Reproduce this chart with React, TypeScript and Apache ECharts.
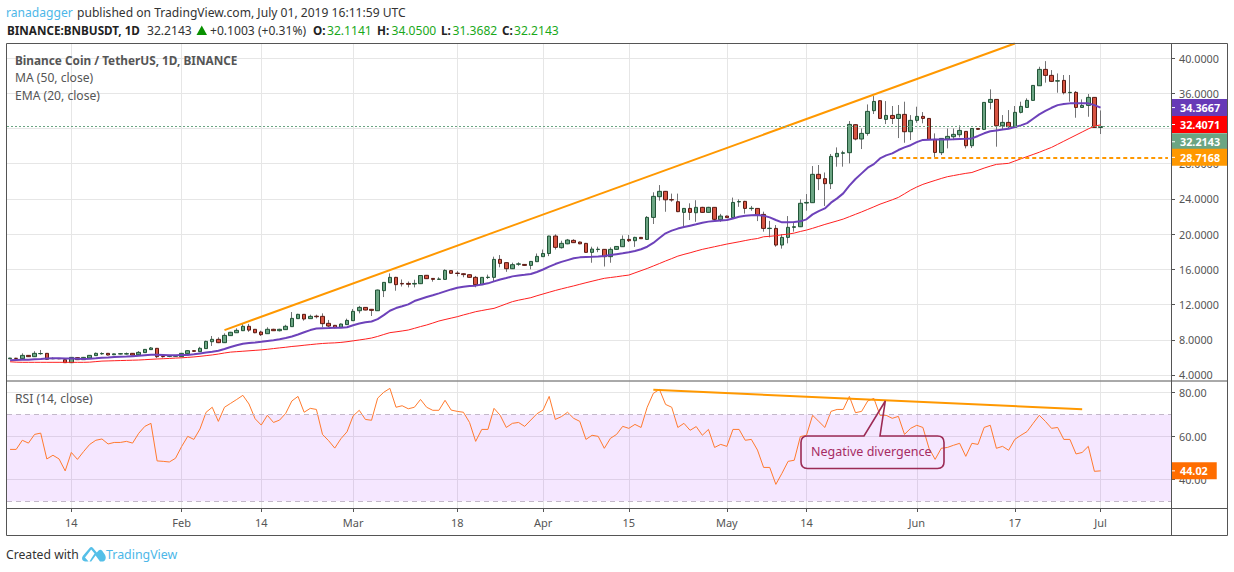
import { useEffect, useRef } from 'react'
import * as echarts from 'echarts'

const FONT = '"Noto Sans", sans-serif'

// one category per day, Jan 4 to Jul 12 2019 (the last ones are empty space to the right)
const categories: string[] = Array.from({ length: 190 }, (_, i) =>
  new Date(Date.UTC(2019, 0, 4 + i)).toISOString().slice(0, 10)
)

const dateTicks: Record<string, string> = {
  '2019-01-14': '14',
  '2019-02-01': 'Feb',
  '2019-02-14': '14',
  '2019-03-01': 'Mar',
  '2019-03-18': '18',
  '2019-04-01': 'Apr',
  '2019-04-15': '15',
  '2019-05-01': 'May',
  '2019-05-14': '14',
  '2019-06-01': 'Jun',
  '2019-06-17': '17',
  '2019-07-01': 'Jul',
}

const opens = [
  5.85, 5.9, 5.85, 6.23, 6.08, 6.42, 6.46, 5.84, 5.88, 5.74,
  5.4, 5.97, 5.74, 5.93, 6.2, 6.4, 6.46, 6.3, 6.38, 6.38,
  6.46, 6.3, 6.54, 6.88, 7.03, 6.12, 6.12, 6.13, 6.08, 6.42,
  6.76, 6.65, 7.0, 7.78, 8.05, 7.67, 8.47, 8.8, 9.03, 9.53,
  9.19, 8.88, 8.69, 9.19, 9.03, 9.15, 9.49, 10.4, 10.89, 10.4,
  10.68, 10.66, 9.87, 9.64, 9.41, 9.72, 10.17, 11.3, 11.68, 11.46,
  11.3, 13.58, 14.48, 15.09, 14.4, 14.4, 14.33, 14.37, 15.32, 14.97,
  14.86, 14.86, 15.85, 15.57, 15.5, 15.39, 15.09, 14.26, 15.07, 15.09,
  17.13, 16.76, 16.07, 16.58, 16.56, 16.45, 16.87, 17.44, 17.8, 19.78,
  18.46, 18.9, 19.29, 19.1, 18.95, 17.93, 18.25, 18.27, 17.44, 18.27,
  18.57, 19.4, 19.25, 19.63, 19.4, 21.9, 24.25, 24.86, 23.92, 23.68,
  22.47, 22.92, 22.43, 23.04, 22.47, 23.04, 21.64, 22.05, 21.87, 23.66,
  23.72, 22.9, 22.92, 22.24, 20.63, 20.65, 18.76, 19.63, 20.77, 20.84,
  23.53, 23.57, 26.79, 26.3, 25.73, 28.79, 29.18, 29.25, 32.43, 30.8,
  31.44, 34.02, 35.15, 33.03, 33.48, 33.14, 33.6, 31.63, 32.92, 33.37,
  33.14, 30.76, 29.25, 30.8, 31.06, 31.29, 31.67, 30.04, 32.0, 31.9,
  34.96, 35.3, 32.31, 32.69, 32.12, 33.83, 34.39, 35.19, 36.85, 38.71,
  38.03, 37.38, 37.46, 36.06, 36.1, 34.39, 34.62, 35.53, 32.1141,
]

const closes = [
  5.92, 5.88, 6.23, 6.08, 6.46, 6.44, 5.78, 5.88, 5.84, 5.4,
  6.0, 5.74, 6.0, 6.23, 6.46, 6.44, 6.27, 6.4, 6.42, 6.42,
  6.27, 6.57, 6.91, 7.07, 6.08, 6.08, 6.16, 6.17, 6.46, 6.76,
  6.69, 7.03, 7.82, 8.05, 7.67, 8.5, 8.85, 9.07, 9.53, 9.1,
  8.8, 8.58, 9.19, 9.03, 9.19, 9.53, 10.43, 10.89, 10.36, 10.66,
  10.62, 9.83, 9.56, 9.37, 9.79, 10.2, 11.23, 11.68, 11.38, 11.34,
  13.65, 14.52, 15.09, 14.26, 14.34, 14.3, 14.4, 15.3, 14.94, 14.86,
  14.9, 15.88, 15.55, 15.53, 15.4, 15.09, 14.26, 15.09, 15.11, 17.13,
  16.68, 16.07, 16.53, 16.62, 16.45, 16.9, 17.47, 17.8, 19.78, 18.5,
  18.95, 19.33, 19.03, 18.9, 17.93, 18.3, 18.29, 17.44, 18.27, 18.6,
  19.4, 19.25, 19.63, 19.48, 21.9, 24.29, 24.86, 23.9, 23.88, 22.55,
  22.92, 22.47, 23.04, 22.47, 23.04, 21.68, 22.05, 21.87, 23.6, 23.7,
  22.92, 22.94, 22.13, 20.65, 20.67, 18.76, 19.63, 20.77, 20.84, 23.5,
  23.6, 26.79, 26.3, 25.73, 28.83, 29.17, 29.24, 32.46, 30.8, 31.44,
  33.94, 35.07, 33.14, 33.48, 33.14, 33.6, 31.63, 32.92, 33.37, 33.14,
  30.76, 29.28, 30.87, 31.1, 31.33, 31.78, 30.04, 32.0, 31.9, 34.96,
  35.3, 32.31, 32.69, 32.2, 33.83, 34.51, 35.19, 36.89, 38.71, 38.03,
  37.35, 37.42, 36.06, 36.1, 34.39, 34.62, 35.53, 32.12, 32.2143,
]

const lows = [
  5.8, 5.82, 5.78, 6.05, 6.05, 6.3, 5.7, 5.8, 5.8, 5.38,
  5.38, 5.7, 5.72, 5.9, 6.18, 6.3, 6.22, 6.26, 6.34, 6.32,
  6.25, 6.28, 6.5, 6.85, 5.93, 5.98, 6.02, 6.05, 6.05, 6.4,
  6.65, 6.62, 6.98, 7.3, 7.62, 7.65, 8.44, 8.78, 9.0, 8.9,
  8.75, 8.43, 8.66, 9.0, 8.95, 9.12, 9.47, 10.38, 10.17, 10.38,
  10.43, 9.42, 9.45, 9.3, 9.38, 9.7, 10.15, 11.0, 11.35, 10.7,
  11.28, 12.85, 14.45, 13.57, 14.05, 13.95, 13.95, 14.33, 14.9, 14.6,
  14.82, 14.83, 15.5, 15.2, 15.1, 15.05, 13.96, 14.22, 14.9, 14.67,
  16.23, 15.72, 16.03, 16.4, 16.42, 16.0, 16.83, 17.4, 17.5, 18.25,
  18.36, 18.85, 19.0, 18.85, 17.9, 16.75, 17.95, 16.32, 16.75, 18.24,
  18.54, 19.1, 18.55, 19.45, 19.35, 21.15, 23.8, 22.54, 23.68, 22.5,
  20.9, 21.6, 21.4, 22.43, 22.43, 21.4, 21.4, 21.85, 21.85, 23.1,
  22.33, 22.65, 21.48, 20.28, 19.63, 18.57, 18.35, 18.95, 20.28, 20.8,
  22.66, 23.55, 25.0, 23.2, 25.12, 27.66, 27.66, 28.03, 30.65, 29.66,
  31.18, 33.64, 33.12, 32.5, 32.5, 30.91, 30.38, 30.68, 32.65, 32.58,
  30.74, 28.72, 28.98, 29.74, 30.68, 30.99, 29.74, 29.78, 31.88, 31.82,
  34.17, 29.93, 31.82, 32.0, 32.1, 33.71, 34.37, 35.17, 36.83, 37.2,
  37.27, 36.06, 35.87, 35.04, 33.22, 34.37, 33.33, 32.1, 31.3682,
]

const highs = [
  5.95, 5.95, 6.46, 6.25, 6.7, 6.84, 6.48, 6.0, 5.9, 5.78,
  6.02, 6.02, 6.05, 6.25, 6.55, 6.58, 6.5, 6.42, 6.5, 6.55,
  6.48, 6.72, 6.95, 7.18, 7.05, 6.2, 6.2, 6.2, 6.5, 6.8,
  6.78, 7.2, 7.9, 8.43, 8.28, 8.73, 8.9, 9.3, 9.87, 9.8,
  9.22, 9.03, 9.42, 9.25, 9.25, 9.7, 11.15, 10.95, 10.92, 10.85,
  10.85, 11.0, 10.25, 9.68, 9.85, 10.4, 11.5, 11.85, 11.72, 11.5,
  13.7, 14.55, 15.54, 15.15, 14.85, 14.62, 14.82, 15.35, 15.36, 15.0,
  15.1, 16.0, 15.88, 15.8, 15.55, 15.42, 15.25, 15.12, 15.4, 17.44,
  17.62, 16.8, 16.76, 16.8, 16.6, 16.95, 17.8, 18.25, 19.82, 19.98,
  19.25, 19.45, 19.42, 19.15, 19.0, 18.57, 18.57, 18.3, 18.5, 18.65,
  19.85, 19.9, 19.7, 19.68, 22.05, 24.75, 25.57, 24.9, 24.6, 24.6,
  22.97, 23.5, 23.85, 23.1, 23.1, 23.08, 22.3, 22.1, 24.15, 23.95,
  23.78, 23.2, 22.96, 22.55, 21.5, 21.03, 20.0, 22.05, 21.41, 23.95,
  24.55, 27.73, 27.85, 27.0, 29.1, 29.85, 29.47, 32.84, 32.47, 32.0,
  34.73, 35.68, 35.2, 35.11, 34.55, 34.66, 35.04, 33.52, 34.47, 33.86,
  33.16, 31.44, 30.9, 32.0, 32.0, 32.35, 31.7, 32.02, 32.02, 34.98,
  36.44, 35.32, 33.52, 34.09, 34.55, 35.04, 35.42, 36.91, 39.01, 39.65,
  38.63, 38.25, 38.07, 38.07, 36.25, 35.3, 35.91, 35.55, 34.05,
]

const maValues = [
  5.67, 5.7, 5.72, 5.74, 5.78, 5.82, 5.88, 5.89, 5.89, 5.88,
  5.87, 5.85, 5.83, 5.85, 5.9, 5.97, 6.0, 6.05, 6.08, 6.1,
  6.14, 6.18, 6.24, 6.3, 6.31, 6.28, 6.25, 6.24, 6.26, 6.28,
  6.35, 6.45, 6.55, 6.65, 6.76, 6.95, 7.18, 7.38, 7.55, 7.63,
  7.7, 7.78, 7.87, 7.95, 8.05, 8.2, 8.38, 8.6, 8.85, 9.1,
  9.27, 9.32, 9.34, 9.37, 9.38, 9.42, 9.65, 9.85, 9.98, 10.08,
  10.35, 10.8, 11.3, 11.6, 11.8, 12.02, 12.4, 12.63, 12.85, 13.05,
  13.27, 13.5, 13.72, 13.9, 14.03, 14.1, 14.15, 14.28, 14.41, 14.63,
  14.85, 15.01, 15.2, 15.3, 15.38, 15.47, 15.7, 15.98, 16.3, 16.6,
  16.85, 17.05, 17.25, 17.36, 17.39, 17.42, 17.46, 17.51, 17.62, 17.72,
  17.82, 17.93, 18.08, 18.28, 18.57, 19.0, 19.55, 20.09, 20.4, 20.63,
  20.8, 20.96, 21.12, 21.3, 21.42, 21.5, 21.55, 21.6, 21.78, 21.98,
  22.08, 22.14, 22.17, 22.1, 21.9, 21.6, 21.34, 21.34, 21.37, 21.45,
  21.68, 22.24, 22.62, 22.92, 23.57, 24.06, 24.63, 25.5, 26.26, 26.9,
  27.54, 27.95, 28.6, 28.94, 29.17, 29.55, 29.85, 30.1, 30.45, 30.7,
  30.72, 30.74, 30.75, 30.76, 30.77, 30.8, 30.83, 30.87, 31.15, 31.45,
  31.68, 31.78, 31.88, 31.96, 32.15, 32.35, 32.6, 33.1, 33.6, 34.0,
  34.35, 34.65, 34.78, 34.85, 34.87, 34.87, 34.85, 34.65, 34.3667,
]

const emaValues = [
  5.5, 5.46, 5.44, 5.44, 5.44, 5.44, 5.44, 5.44, 5.44, 5.44,
  5.44, 5.44, 5.44, 5.46, 5.52, 5.58, 5.6, 5.62, 5.64, 5.66,
  5.68, 5.7, 5.74, 5.78, 5.82, 5.85, 5.88, 5.92, 5.95, 6.0,
  6.05, 6.12, 6.2, 6.28, 6.38, 6.5, 6.6, 6.65, 6.7, 6.75,
  6.8, 6.85, 6.92, 7.0, 7.08, 7.15, 7.24, 7.3, 7.38, 7.45,
  7.52, 7.58, 7.62, 7.65, 7.7, 7.78, 7.88, 7.98, 8.08, 8.2,
  8.38, 8.6, 8.81, 8.9, 9.0, 9.11, 9.3, 9.5, 9.68, 9.9,
  10.13, 10.3, 10.46, 10.62, 10.82, 11.0, 11.19, 11.32, 11.45, 11.57,
  11.82, 12.08, 12.33, 12.5, 12.64, 12.78, 13.0, 13.2, 13.4, 13.6,
  13.78, 13.95, 14.12, 14.3, 14.48, 14.65, 14.82, 14.98, 15.07, 15.16,
  15.26, 15.35, 15.6, 15.85, 16.1, 16.38, 16.66, 16.95, 17.22, 17.5,
  17.7, 17.88, 18.08, 18.27, 18.42, 18.57, 18.72, 18.87, 19.0, 19.13,
  19.27, 19.4, 19.5, 19.7, 19.75, 19.82, 19.93, 20.0, 20.12, 20.3,
  20.46, 20.66, 20.88, 21.1, 21.3, 21.5, 21.71, 21.98, 22.25, 22.52,
  22.81, 23.1, 23.4, 23.65, 23.9, 24.17, 24.58, 25.0, 25.35, 25.65,
  25.88, 26.1, 26.32, 26.52, 26.65, 26.78, 26.9, 27.0, 27.25, 27.5,
  27.72, 27.92, 27.98, 28.04, 28.3, 28.55, 28.8, 29.05, 29.3, 29.58,
  29.85, 30.2, 30.55, 30.9, 31.25, 31.6, 31.95, 32.27, 32.4071,
]

const rsiValues = [
  53.9, 53.9, 58.1, 56.8, 60.8, 61.4, 49.5, 51.2, 49.5, 44.0,
  52.5, 49.3, 52.9, 56.2, 58.1, 58.7, 56.4, 57.1, 57.1, 57.6,
  56.8, 61.3, 64.5, 65.9, 48.6, 48.4, 48.1, 49.8, 55.2, 59.9,
  58.5, 63.3, 71.0, 73.3, 66.8, 73.3, 75.1, 76.9, 78.8, 74.8,
  68.0, 65.1, 69.6, 66.3, 67.4, 70.5, 76.2, 78.3, 71.0, 72.8,
  72.3, 60.8, 57.9, 54.5, 58.8, 62.0, 69.3, 71.9, 67.7, 67.3,
  77.5, 80.2, 82.0, 73.3, 74.0, 72.6, 73.3, 76.9, 73.3, 71.9,
  71.9, 76.5, 72.0, 71.4, 71.0, 66.3, 57.6, 63.1, 63.1, 72.8,
  69.6, 64.0, 65.9, 66.3, 64.5, 67.4, 70.3, 72.0, 78.3, 67.7,
  69.0, 71.0, 68.2, 66.8, 58.5, 60.4, 59.9, 54.4, 59.0, 60.8,
  64.5, 63.6, 65.4, 64.0, 73.3, 79.7, 81.5, 74.6, 73.3, 64.0,
  65.9, 62.7, 64.4, 60.4, 63.1, 54.8, 56.2, 55.3, 63.1, 63.1,
  58.1, 58.5, 53.6, 45.6, 45.6, 37.8, 42.9, 48.4, 48.9, 59.8,
  60.4, 69.6, 66.8, 64.0, 71.4, 72.3, 72.3, 78.3, 70.8, 71.4,
  76.2, 77.4, 69.6, 69.6, 68.2, 69.1, 60.8, 63.6, 65.0, 64.0,
  54.4, 49.3, 54.4, 54.8, 55.8, 56.7, 50.7, 56.7, 56.2, 64.0,
  65.0, 54.4, 55.3, 53.5, 58.5, 60.4, 62.1, 65.9, 69.6, 66.8,
  63.6, 64.0, 58.5, 58.5, 51.8, 52.5, 55.3, 43.8, 44.02,
]

const priceTicks = [4, 8, 12, 16, 20, 24, 28, 32, 36, 40]
// 32 sits fully behind the price boxes, so it gets a tick but no label
const priceTickLabels = [4, 8, 12, 16, 20, 24, 28, 36, 40]
const rsiTicks = [40, 60, 80]
const lastClose = 32.2143
const supportLevel = 28.7168

echarts.graphic.registerShape(
  'callout',
  echarts.graphic.extendPath(
    'M807.5 436H864L885.3 401L880 436H937.5Q944 436 944 442.5V462Q944 468.5 937.5 468.5H807.5Q801 468.5 801 462V442.5Q801 436 807.5 436Z',
    {}
  )
)
echarts.graphic.registerShape(
  'tvlogo',
  echarts.graphic.extendPath(
    'M85.5 561.5C82 561.5 81.2 558 83 555.8L89.6 548C90.6 546.8 92 546.8 93 548L96.8 552.6L98.6 550.6C99.6 549.5 101 549.5 102 550.6L104.8 554.4C106.8 557.4 105.6 561.5 102 561.5H100L95.6 555.4L91.2 561.5H89.5L91.6 558L94.6 553.4L91.2 549.6L85 557.4L88.6 561.5Z',
    {}
  )
)

function txt(x: number, y: number, text: string, fill: string, fontSize = 12.1, fontWeight: string | number = 'normal') {
  return {
    type: 'text',
    x,
    y,
    z: 20,
    silent: true,
    style: { text, fill, fontSize, fontWeight, fontFamily: FONT, verticalAlign: 'middle' },
  }
}

function frameLine(x1: number, y1: number, x2: number, y2: number) {
  return {
    type: 'line',
    z: 10,
    silent: true,
    shape: { x1, y1, x2, y2 },
    style: { stroke: '#555', lineWidth: 1 },
  }
}

function boxLabel(text: string, backgroundColor: string, rightPad: number) {
  return {
    show: true,
    position: 'end',
    distance: 0,
    opacity: 1,
    formatter: `{t|}{v|${text}}`,
    backgroundColor,
    padding: 0,
    rich: {
      t: { width: 4, height: 1, backgroundColor: '#fff', verticalAlign: 'middle' },
      v: {
        color: '#fff',
        fontFamily: FONT,
        fontSize: 10.8,
        fontWeight: 'bold',
        lineHeight: 17,
        padding: [0, rightPad, 0, 5],
        verticalAlign: 'middle',
      },
    },
  }
}

function priceBox(anchor: number, text: string, backgroundColor: string) {
  return {
    yAxis: anchor,
    lineStyle: { opacity: 0 },
    label: boxLabel(text, backgroundColor, 7),
  }
}

export default function App() {
  const chartRef = useRef<HTMLDivElement>(null)

  useEffect(() => {
    document.body.style.margin = '0'
    if (!chartRef.current) return
    const chart = echarts.init(chartRef.current, undefined, { renderer: 'svg' })

    const showDateTick = (_: number, value: string) => value in dateTicks
    const wickData = opens.map((o, i) => [o, closes[i], lows[i], highs[i]])
    const bodyData = opens.map((o, i) => [o, closes[i], Math.min(o, closes[i]), Math.max(o, closes[i])])

    const option = {
      animation: false,
      backgroundColor: '#fff',
      textStyle: { fontFamily: FONT },
      grid: [
        { left: 7, width: 1164, top: 43.5, height: 337 },
        { left: 7, width: 1164, top: 381.5, height: 126.5 },
      ],
      xAxis: [
        {
          type: 'category',
          gridIndex: 0,
          data: categories,
          axisLine: { show: false },
          axisTick: { show: false },
          axisLabel: { show: false },
          splitLine: { show: true, interval: showDateTick, alignWithLabel: true, lineStyle: { color: '#e6e6e6' } },
        },
        {
          type: 'category',
          gridIndex: 1,
          data: categories,
          axisLine: { show: false },
          axisTick: { show: true, length: 4, alignWithLabel: true, interval: showDateTick, lineStyle: { color: '#555' } },
          axisLabel: {
            interval: showDateTick,
            formatter: (value: string) => dateTicks[value] ?? '',
            color: '#555',
            fontSize: 11,
            margin: 9,
          },
          splitLine: { show: true, interval: showDateTick, alignWithLabel: true, lineStyle: { color: '#e6e6e6' } },
        },
      ],
      yAxis: [
        {
          type: 'value',
          gridIndex: 0,
          position: 'right',
          min: 3.375,
          max: 41.65,
          axisLine: { show: false },
          axisTick: { show: true, length: 4, customValues: priceTicks, lineStyle: { color: '#555' } },
          axisLabel: {
            customValues: priceTickLabels,
            formatter: (v: number) => v.toFixed(4),
            color: '#555',
            fontSize: 10.8,
            margin: 8,
          },
          splitLine: { show: true, lineStyle: { color: '#e6e6e6' } },
        },
        {
          type: 'value',
          gridIndex: 1,
          position: 'right',
          min: 26.92,
          max: 85.16,
          axisLine: { show: false },
          axisTick: { show: true, length: 4, customValues: rsiTicks, lineStyle: { color: '#555' } },
          axisLabel: {
            customValues: rsiTicks,
            formatter: (v: number) => v.toFixed(2),
            color: '#555',
            fontSize: 10.8,
            margin: 8,
          },
          splitLine: { show: true, lineStyle: { color: '#e6e6e6' } },
        },
      ],
      series: [
        {
          name: 'Wicks',
          type: 'candlestick',
          xAxisIndex: 0,
          yAxisIndex: 0,
          barWidth: 1,
          data: wickData,
          silent: true,
          itemStyle: {
            color: '#737375',
            color0: '#737375',
            borderColor: '#737375',
            borderColor0: '#737375',
            borderWidth: 1,
          },
        },
        {
          name: 'Binance Coin / TetherUS',
          type: 'candlestick',
          xAxisIndex: 0,
          yAxisIndex: 0,
          barWidth: 4,
          data: bodyData,
          silent: true,
          z: 3,
          itemStyle: {
            color: '#6ba583',
            color0: '#d75442',
            borderColor: '#225437',
            borderColor0: '#5b1a13',
            borderWidth: 1,
          },
        },
        {
          name: 'MA (50, close)',
          type: 'line',
          xAxisIndex: 0,
          yAxisIndex: 0,
          data: maValues,
          showSymbol: false,
          silent: true,
          z: 4,
          lineStyle: { color: '#6d42ba', width: 2 },
        },
        {
          name: 'EMA (20, close)',
          type: 'line',
          xAxisIndex: 0,
          yAxisIndex: 0,
          data: emaValues,
          showSymbol: false,
          silent: true,
          z: 4,
          lineStyle: { color: '#ff2020', width: 1 },
          markLine: {
            silent: true,
            symbol: 'none',
            animation: false,
            label: { show: false },
            data: [
              // trend line above the price
              [
                { coord: [categories[35], 9.1], lineStyle: { color: '#ff9800', width: 2, type: 'solid' } },
                { coord: [categories[164], 41.65] },
              ],
              // support level
              [
                { coord: [categories[144], supportLevel], lineStyle: { color: '#ff9800', width: 2, type: [4, 3] } },
                { coord: [categories[189], supportLevel] },
              ],
              // last price
              { yAxis: lastClose, lineStyle: { color: '#6ba583', width: 1, type: [2, 2] } },
              // boxes stack, so the two middle ones sit lower than their value
              priceBox(34.3667, '34.3667', '#673ab7'),
              priceBox(32.45, '32.4071', '#ff0000'),
              priceBox(30.49, '32.2143', '#6ba583'),
              priceBox(supportLevel, '28.7168', '#ff9800'),
            ],
          },
        },
        {
          name: 'RSI (14, close)',
          type: 'line',
          xAxisIndex: 1,
          yAxisIndex: 1,
          data: rsiValues,
          showSymbol: false,
          silent: true,
          z: 4,
          lineStyle: { color: '#ff7a2e', width: 1 },
          markArea: {
            silent: true,
            itemStyle: { color: 'rgba(153, 21, 255, 0.1)' },
            data: [[{ yAxis: 70 }, { yAxis: 30 }]],
          },
          markLine: {
            silent: true,
            symbol: 'none',
            animation: false,
            label: { show: false },
            data: [
              { yAxis: 70, lineStyle: { color: '#c3b8c9', width: 1, type: [5, 4] } },
              { yAxis: 30, lineStyle: { color: '#c3b8c9', width: 1, type: [5, 4] } },
              [
                { coord: [categories[105], 81.38], lineStyle: { color: '#ff9800', width: 2, type: 'solid' } },
                { coord: [categories[175], 72.36] },
              ],
              {
                yAxis: 44.02,
                lineStyle: { opacity: 0 },
                label: boxLabel('44.02', '#ff6d00', 9),
              },
            ],
          },
        },
      ],
      graphic: [
        frameLine(6.5, 43.5, 1227.5, 43.5),
        frameLine(6.5, 535.5, 1227.5, 535.5),
        frameLine(6.5, 43.5, 6.5, 535.5),
        frameLine(1227.5, 43.5, 1227.5, 535.5),
        frameLine(1171.5, 43.5, 1171.5, 535.5),
        frameLine(6.5, 381, 1227.5, 381),
        frameLine(6.5, 508.5, 1227.5, 508.5),
        txt(6, 12.5, 'ranadagger', '#4db7e8'),
        txt(77, 12.5, 'published on TradingView.com, July 01, 2019 16:11:59 UTC', '#333'),
        txt(7, 30, 'BINANCE:BNBUSDT, 1D', '#222', 11.7, 'bold'),
        txt(147, 30, '32.2143', '#333'),
        {
          type: 'polygon',
          z: 20,
          silent: true,
          shape: { points: [[196.5, 35], [207, 35], [201.75, 25.5]] },
          style: { fill: '#089000' },
        },
        txt(210, 30, '+0.1003 (+0.31%)', '#333'),
        txt(313, 30, 'O:', '#222', 11.7, 'bold'),
        txt(327, 30, '32.1141', '#1aa81a'),
        txt(377, 30, 'H:', '#222', 11.7, 'bold'),
        txt(391.5, 30, '34.0500', '#1aa81a'),
        txt(441, 30, 'L:', '#222', 11.7, 'bold'),
        txt(452.5, 30, '31.3682', '#1aa81a'),
        txt(502, 30, 'C:', '#222', 11.7, 'bold'),
        txt(514, 30, '32.2143', '#1aa81a'),
        txt(15, 60, 'Binance Coin / TetherUS, 1D, BINANCE', '#555', 11.8, 'bold'),
        txt(15, 77.5, 'MA (50, close)', '#555'),
        txt(15, 95, 'EMA (20, close)', '#555'),
        txt(15, 398.5, 'RSI (14, close)', '#555'),
        {
          type: 'callout',
          z: 21,
          silent: true,
          style: { fill: 'rgba(0,0,0,0)', stroke: '#9c2b55', lineWidth: 1.6 },
        },
        txt(811, 451.5, 'Negative divergence', '#a62c63', 12.5),
        txt(6, 554, 'Created with', '#333', 12.2),
        {
          type: 'tvlogo',
          z: 20,
          silent: true,
          style: { fill: '#55bfe8' },
        },
        txt(106, 554.5, 'TradingView', '#4db7e8', 12.4),
      ],
    }

    chart.setOption(option as any)

    return () => {
      chart.dispose()
    }
  }, [])

  return <div ref={chartRef} style={{ width: 1234, height: 572 }} />
}
